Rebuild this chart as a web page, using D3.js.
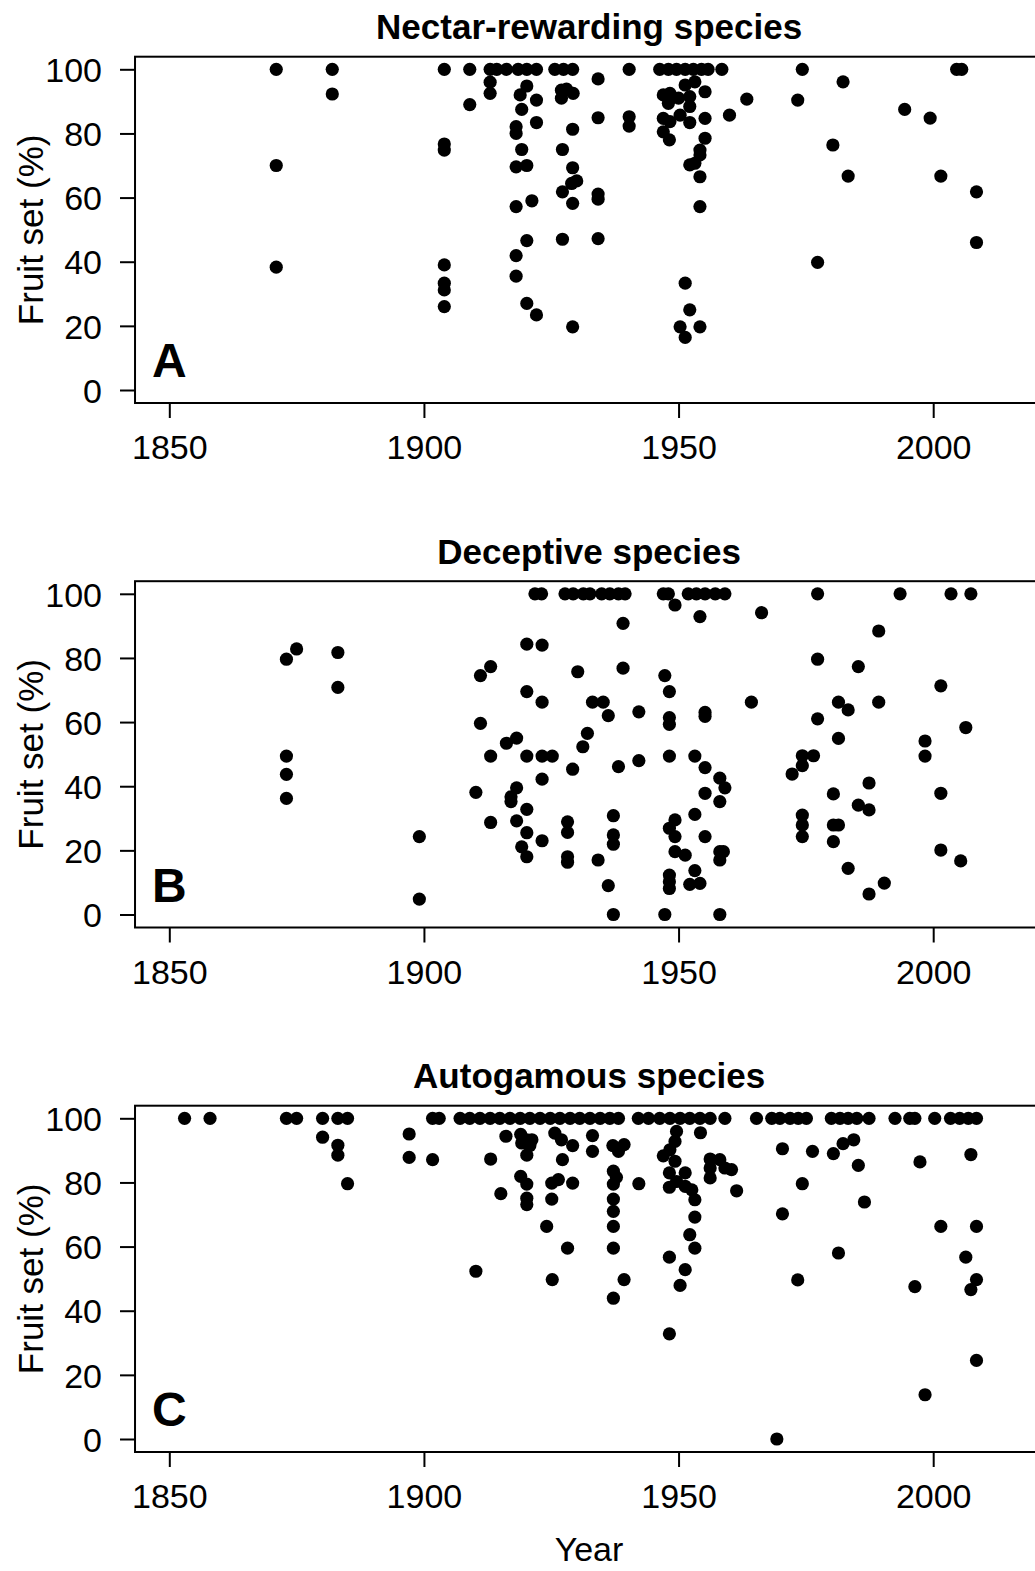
<!DOCTYPE html>
<html>
<head>
<meta charset="utf-8">
<script src="https://cdn.jsdelivr.net/npm/d3@7"></script>
<style>
  body { margin: 0; background: #fff; }
  text { font-family: "Liberation Sans", Arial, Helvetica, sans-serif; fill: #000; }
</style>
</head>
<body>
<script>
// ---------------- data: [year, fruit set %] ----------------
var nectarPoints = [
  [1871,100],[1871,70],[1871,38.3],[1882,100],[1882,92.3],
  [1904,100],[1904,76.7],[1904,74.8],[1904,39],[1904,33.3],[1904,31.2],[1904,26],
  [1909,100],[1909,89],
  [1913,100],[1914.3,100],[1916.2,100],[1913,96],[1913,92.5],
  [1918.5,100],[1920.2,100],[1922.1,100],
  [1920.2,94.8],[1918.9,92],[1922.1,90.4],[1919.2,87.5],[1922.1,83.4],[1918.1,82.1],[1918.1,80],
  [1919.2,75],[1918.1,69.6],[1920.2,70],[1918.1,57.2],[1921.2,59],[1920.2,46.6],[1918.1,41.9],
  [1918.1,35.5],[1920.2,27],[1922.1,23.4],
  [1925.7,100],[1927.4,100],[1929.2,100],
  [1927,93.5],[1928,93.8],[1929.3,92.5],[1927,91],
  [1929.2,81.3],[1927.2,75],[1929.2,69.3],[1930,65.2],[1929,64.4],[1927.2,61.8],[1929.2,58.2],
  [1927.2,47],[1929.2,19.7],
  [1934.2,97],[1934.2,84.9],[1934.2,61.1],[1934.2,59.5],[1934.2,47.2],
  [1940.3,100],[1940.3,85.2],[1940.3,82.3],
  [1946.3,100],[1948,100],[1949.6,100],[1951.3,100],[1952.9,100],[1954.5,100],[1955.8,100],[1958.5,100],
  [1951.3,95.1],[1953.2,96.1],[1955.2,93],[1947,92],[1948.3,92.5],[1948,89.4],[1950,91],[1952.2,88.4],
  [1952.2,91.5],[1947,84.7],[1948.3,83.7],[1950.3,85.7],[1952.2,83.4],[1955.2,84.7],[1947,80.5],
  [1948.2,78],[1955.2,78.5],[1954.2,74.8],[1954.2,73.3],[1952.2,70.2],[1953.2,70.7],[1954.2,66.5],
  [1954.2,57.2],[1951.3,33.3],[1952.2,25],[1950.3,19.7],[1954.2,19.7],[1951.3,16.4],
  [1960,85.7],[1963.4,90.7],[1974.3,100],[1973.4,90.4],[1982.3,96.1],[1977.3,39.8],[1980.3,76.4],
  [1983.3,66.7],[1994.4,87.5],[1999.4,84.8],[2001.5,66.7],[2004.6,100],[2005.6,100],[2008.5,61.8],[2008.5,46]
];

var deceptivePoints = [
  [1873,79.6],[1875,82.8],[1883.1,81.7],[1883.1,70.8],[1873,49.4],[1873,43.7],[1873,36.2],
  [1899.1,24.3],[1899.1,4.8],
  [1921.8,100],[1923.1,100],[1927.7,100],[1929.3,100],[1931.3,100],[1932.6,100],[1934.9,100],
  [1936.5,100],[1938.2,100],[1939.5,100],[1947,100],[1948,100],[1949.3,96.5],[1951.9,100],
  [1953.5,100],[1955.2,100],[1957.2,100],[1959.1,100],
  [1954.2,92.9],[1939.1,90.8],[1920.2,84.3],[1923.2,84],[1913.1,77.3],[1911.1,74.5],[1930.2,75.7],
  [1939.1,76.8],[1947.3,74.5],[1948.2,69.5],[1920.2,69.5],[1923.2,66.2],[1933.1,66.2],[1935.2,66.2],
  [1936.2,62],[1942.2,63.2],[1948.2,61.4],[1948.2,59.3],[1955.2,63],[1955.2,61.8],
  [1911.1,59.6],[1918.2,55],[1916.2,53.4],[1932.1,56.5],[1931.2,52.3],[1913.1,49.4],[1920.2,49.4],
  [1923.2,49.4],[1925.2,49.4],[1929.2,45.3],[1938.2,46.1],[1942.2,48],[1948.2,49.4],[1953.2,49.4],
  [1955.2,45.8],[1958.1,42.5],[1959.1,39.5],[1955.2,37.8],[1958.1,35.2],
  [1923.2,42.2],[1910.2,38.1],[1918.2,39.5],[1917.1,36.7],[1917.1,35.2],[1920.2,32.8],[1913.1,28.7],
  [1918.2,29.2],[1920.2,25.5],[1923.2,23],[1919.2,21.1],[1920.2,18],[1928.2,28.9],[1928.2,25.6],
  [1928.2,18],[1928.2,16.3],[1934.2,17],[1937.2,30.8],[1937.2,24.8],[1937.2,21.9],[1936.2,9],
  [1937.2,0],[1947.3,0],[1949.3,29.5],[1948.2,26.9],[1949.3,24.3],[1949.3,19.6],[1951.3,18.5],
  [1953.2,31.2],[1955.2,24.3],[1948.2,12.3],[1948.2,10.2],[1948.2,8.1],[1953.2,13.7],[1952.2,9.4],
  [1954.2,9.7],[1958.1,19.6],[1958.8,19.6],[1958.1,17],[1958.1,0],
  [1966.3,94.1],[1964.3,66.2],[1977.3,100],[1977.3,79.6],[1977.3,61],[1981.4,66.2],[1983.3,63.8],
  [1985.3,77.3],[1989.3,88.4],[1989.3,66.2],[1981.4,54.9],[1993.5,100],[2003.5,100],[2007.4,100],
  [2001.5,71.3],[1998.4,54.1],[1998.4,49.4],[2006.4,58.3],[1974.3,49.5],[1976.5,49.5],[1974.3,46.4],
  [1972.3,43.8],[1987.4,41],[1980.4,37.6],[1985.3,34.1],[1987.4,32.6],[1974.3,31],[1974.3,27.9],
  [1974.3,24.3],[1980.4,27.9],[1981.4,27.9],[1980.4,22.7],[1983.3,14.4],[1990.4,9.8],[1987.4,6.4],
  [2001.5,37.8],[2001.5,20.1],[2005.4,16.7]
];

var autogamousPoints = [
  [1853,100],[1858,100],[1873,100],[1875,100],[1880.1,100],[1880.1,94.1],[1883.1,100],[1885,100],
  [1883.1,91.6],[1883.1,88.5],[1885,79.6],[1897.1,95.1],[1897.1,87.8],[1901.7,100],[1901.7,87.1],
  [1903,100],[1907.1,100],[1909,100],[1911,100],[1913,100],[1914.9,100],[1916.9,100],[1918.9,100],
  [1920.8,100],[1922.8,100],[1924.8,100],[1926.7,100],[1928.7,100],[1930.6,100],[1932.6,100],
  [1934.6,100],[1936.5,100],[1938.2,100],[1942.1,100],[1944.1,100],[1946.3,100],[1948.3,100],
  [1950.3,100],[1952.2,100],[1954.2,100],[1956.2,100],[1959.1,100],
  [1913.1,87.3],[1916.1,94.4],[1919,95],[1920.2,93.3],[1921.2,93.3],[1919.2,92.3],[1920.8,91.5],
  [1920.2,88.5],[1915.1,76.5],[1919,81.9],[1920.2,79.5],[1920.2,75.1],[1920.2,73.1],[1925.7,95.4],
  [1927,93.3],[1929.2,91.5],[1927.2,87.1],[1925.1,79.8],[1926.4,80.9],[1929.2,79.8],[1925.1,74.8],
  [1924.1,66.3],[1928.2,59.5],[1925.2,49.7],[1910.2,52.3],[1933.1,94.6],[1933.1,89.7],[1937.1,91.5],
  [1938.2,89.7],[1939.3,91.8],[1937.2,83.5],[1937.8,81.6],[1937.2,79.5],[1937.2,74.8],[1937.2,71],
  [1937.2,66.3],[1937.2,59.5],[1937.2,43.9],[1939.3,49.7],[1942.2,79.6],
  [1949.6,95.9],[1954.3,95.5],[1949.3,92.8],[1948.3,90.2],[1947,88.3],[1949.3,86.6],[1948.2,83],
  [1951.3,83],[1949.6,80.3],[1948.2,78.5],[1951.3,78.8],[1952.6,77.7],[1953.2,74.6],[1953.2,69.2],
  [1952.2,63.7],[1953.2,59.5],[1948.2,56.7],[1951.3,52.8],[1950.3,47.9],[1948.2,32.8],[1956.2,87.3],
  [1956.2,84.5],[1956.2,81.4],[1958.1,87.1],[1959.1,84.5],[1960.4,84],[1961.4,77.4],
  [1965.3,100],[1968.3,100],[1969.9,100],[1971.9,100],[1973.5,100],[1975.1,100],[1980,100],
  [1981.7,100],[1983.3,100],[1985,100],[1987.4,100],[1992.5,100],[1995.4,100],[1996.4,100],
  [2000.3,100],[2003.4,100],[2005.2,100],[2006.9,100],[2008.5,100],
  [1970.4,90.5],[1976.3,89.7],[1974.3,79.6],[1970.4,70.2],[1973.4,49.6],[1969.3,0],[1980.4,89],
  [1982.3,92.1],[1984.4,93.3],[1985.3,85.3],[1986.5,73.9],[1981.4,58],[1997.4,86.4],[1996.4,47.5],
  [1998.4,13.8],[2007.4,88.7],[2001.5,66.3],[2008.5,66.3],[2006.4,56.7],[2008.5,49.7],[2007.4,46.6],
  [2008.5,24.5]
];

var panelTitles = ["Nectar-rewarding species", "Deceptive species", "Autogamous species"];
var panelLetters = ["A", "B", "C"];
var xTicks = [1850, 1900, 1950, 2000];
var yTicks = [0, 20, 40, 60, 80, 100];

// ---------------- layout ----------------
var width = 1035, height = 1571;
var panelStep = 524.5;
var xMin = 1843.27, xMax = 2021.6;

var svg = d3.select("body").append("svg")
  .attr("width", width)
  .attr("height", height);

var xScale = d3.scaleLinear().domain([1850, 2000]).range([169.3, 933.2]);

var allPanels = [nectarPoints, deceptivePoints, autogamousPoints];

allPanels.forEach(function(points, i) {
  var off = i * panelStep;
  var yScale = d3.scaleLinear().domain([0, 100]).range([390 + off, 69.3 + off]);
  var boxTop = 56.7 + off, boxBottom = 403 + off;

  var g = svg.append("g").attr("id", "panel-" + panelLetters[i]);

  //points
  g.append("g").selectAll("circle")
    .data(points).enter()
    .append("circle")
    .attr("cx", function(d) { return xScale(d[0]); })
    .attr("cy", function(d) { return yScale(d[1]); })
    .attr("r", 6.6)
    .attr("fill", "#000");

  //frame
  g.append("rect")
    .attr("x", xScale(xMin))
    .attr("y", boxTop)
    .attr("width", xScale(xMax) - xScale(xMin))
    .attr("height", boxBottom - boxTop)
    .attr("fill", "none")
    .attr("stroke", "#000")
    .attr("stroke-width", 2);

  //y axis
  var yAxis = d3.axisLeft(yScale).tickValues(yTicks).tickSize(15).tickPadding(18);
  var ya = g.append("g")
    .attr("transform", "translate(" + xScale(xMin) + ",0)")
    .call(yAxis);
  ya.select(".domain").remove();
  ya.selectAll("line").attr("stroke-width", 2);
  ya.selectAll("text")
    .attr("font-size", 34)
    .attr("dy", "0.36em");

  //x axis
  var xAxis = d3.axisBottom(xScale).tickValues(xTicks).tickSize(15).tickPadding(17)
    .tickFormat(d3.format("d"));
  var xa = g.append("g")
    .attr("transform", "translate(0," + boxBottom + ")")
    .call(xAxis);
  xa.select(".domain").remove();
  xa.selectAll("line").attr("stroke-width", 2);
  xa.selectAll("text")
    .attr("font-size", 34);

  //y label
  g.append("text")
    .attr("transform", "translate(43," + ((boxTop + boxBottom) / 2) + ") rotate(-90)")
    .attr("text-anchor", "middle")
    .attr("font-size", 35)
    .text("Fruit set (%)");

  //title
  g.append("text")
    .attr("x", (xScale(xMin) + xScale(xMax)) / 2)
    .attr("y", 39 + off)
    .attr("text-anchor", "middle")
    .attr("font-size", 35)
    .attr("font-weight", "bold")
    .text(panelTitles[i]);

  //panel letter
  g.append("text")
    .attr("x", 152)
    .attr("y", 377 + off)
    .attr("font-size", 48)
    .attr("font-weight", "bold")
    .text(panelLetters[i]);
});

//x label
svg.append("text")
  .attr("x", 589)
  .attr("y", 1561)
  .attr("text-anchor", "middle")
  .attr("font-size", 34)
  .text("Year");
</script>
</body>
</html>
